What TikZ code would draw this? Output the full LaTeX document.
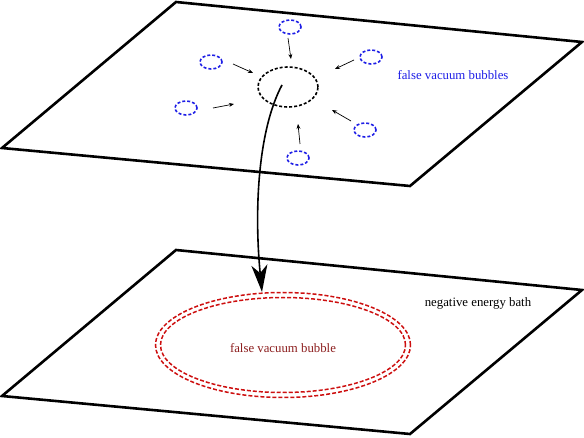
\documentclass[tikz,border=0pt]{standalone}
\usepackage{fontspec}
\setmainfont{Liberation Serif}
\usetikzlibrary{arrows.meta,shapes.geometric}
\definecolor{bubblue}{RGB}{30,30,230}
\definecolor{bubred}{RGB}{205,15,15}
\definecolor{txtred}{RGB}{140,30,30}
\begin{document}
\begin{tikzpicture}[x=1pt,y=-1pt,
  plane/.style={line width=2.6pt,line join=miter},
  small/.style={draw=bubblue,dashed,line width=1.6pt,ellipse,minimum width=22pt,minimum height=14pt,inner sep=0pt, dash pattern=on 3pt off 2pt},
  pull/.style={-{Stealth[length=5pt,width=4pt]},line width=0.7pt},
  lab/.style={font=\fontsize{12.8}{14}\selectfont}]
\useasboundingbox (0,0) rectangle (584,438);
% planes
\draw[plane] (176,2) -- (582,42) -- (410,186) -- (2,148) -- cycle;
\draw[plane] (176,250) -- (582,290) -- (410,434) -- (2,396) -- cycle;
% central bubble
\node[draw=black,dashed,line width=1.6pt,ellipse,minimum width=60pt,minimum height=40pt,inner sep=0pt,dash pattern=on 3pt off 2pt] (c) at (288,87) {};
% small bubbles
\node[small] (b1) at (290,27) {};
\node[small] (b2) at (211,62) {};
\node[small] (b3) at (186,108) {};
\node[small] (b4) at (371,57) {};
\node[small] (b5) at (365,130) {};
\node[small] (b6) at (298,158) {};
% arrows
\coordinate (a1s) at (288,38); \coordinate (a1e) at (291,59);
\coordinate (a2s) at (233,64); \coordinate (a2e) at (253,73);
\coordinate (a3s) at (213,108); \coordinate (a3e) at (234,104);
\coordinate (a4s) at (354,60); \coordinate (a4e) at (335,69);
\coordinate (a5s) at (351,121); \coordinate (a5e) at (332,110);
\coordinate (a6s) at (300,144); \coordinate (a6e) at (298,124);
\draw[pull] (a1s) -- (a1e);
\draw[pull] (a2s) -- (a2e);
\draw[pull] (a3s) -- (a3e);
\draw[pull] (a4s) -- (a4e);
\draw[pull] (a5s) -- (a5e);
\draw[pull] (a6s) -- (a6e);
% labels
\node[lab,text=bubblue] (l1) at (453,75) {false vacuum bubbles};
\node[lab] (l2) at (478,303) {negative energy bath};
% big bubble
\node[draw=bubred,dashed,line width=1.5pt,ellipse,minimum width=255pt,minimum height=105pt,inner sep=0pt,dash pattern=on 4pt off 2pt] (big) at (283,345) {};
\node[draw=bubred,dashed,line width=1.5pt,ellipse,minimum width=245pt,minimum height=95pt,inner sep=0pt,dash pattern=on 4pt off 2pt] (bigin) at (283,345) {};
\node[lab,text=txtred] (l3) at (283,348) {false vacuum bubble};
% transfer arrow
\coordinate (s) at (282,85);
\coordinate (t) at (262,292);
\draw[line width=1.6pt,-{Stealth[length=27pt,width=16pt,inset=8pt]}] (s) .. controls (258,130) and (254,210) .. (t);
\end{tikzpicture}
\end{document}
